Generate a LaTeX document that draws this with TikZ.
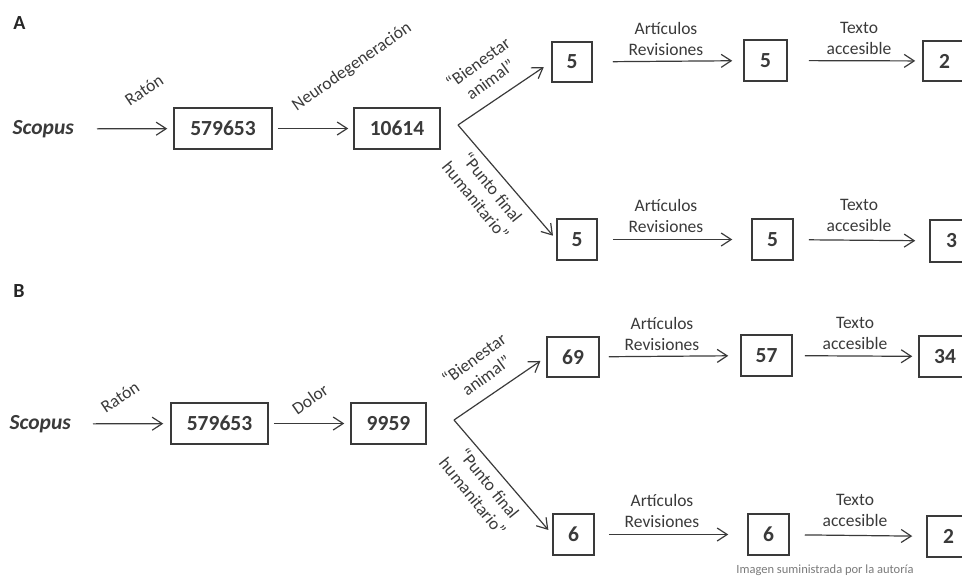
\documentclass[tikz,border=0pt]{standalone}
\usepackage{fontspec}
\setmainfont{Carlito}
\usetikzlibrary{arrows.meta}
\definecolor{tinta}{HTML}{3A3A3A}
\definecolor{nota}{HTML}{7A7A7A}
\tikzset{
  caja/.style={draw=tinta, line width=1.5pt, text=tinta, inner sep=0pt,
    font=\fontsize{21.5}{24}\selectfont\bfseries},
  flecha/.style={draw=tinta, line width=1.2pt,
    -{Straight Barb[length=10pt,width=13pt,line width=1.2pt]}},
  etiqueta/.style={text=tinta, align=center, inner sep=0pt,
    font=\fontsize{17.5}{21}\selectfont},
  fuente/.style={text=tinta, inner sep=2pt,
    font=\fontsize{21.5}{24}\selectfont\bfseries\itshape},
  panel/.style={text=black!85, inner sep=0pt,
    font=\fontsize{20}{24}\selectfont\bfseries}
}
\begin{document}
\begin{tikzpicture}[x=1pt,y=-1pt]
    \useasboundingbox (0,0) rectangle (962,576);

    % panel A
    \node[panel] (A) at (19.5,23.5) {A};
    \node[fuente,anchor=east] (aS) at (76,129) {Scopus};
    \node[caja,minimum width=98pt,minimum height=41pt] (a1) at (223,128.5) {579653};
    \node[caja,minimum width=86pt,minimum height=41pt] (a2) at (397,128.5) {10614};
    \coordinate (aP) at (458,125);
    \node[caja,minimum width=40pt,minimum height=40pt] (aU1) at (572,62) {5};
    \node[caja,minimum width=43pt,minimum height=41pt] (aU2) at (765.5,60.5) {5};
    \node[caja,minimum width=43pt,minimum height=40pt] (aU3) at (944.5,61) {2};
    \node[caja,minimum width=40pt,minimum height=41pt] (aL1) at (577,239.5) {5};
    \node[caja,minimum width=41pt,minimum height=41pt] (aL2) at (772.5,239.5) {5};
    \node[caja,minimum width=43pt,minimum height=42pt] (aL3) at (951.5,241) {3};

    \draw[flecha,shorten <=21pt,shorten >=6pt] (aS) -- (a1);
    \draw[flecha,shorten <=5pt,shorten >=5pt] (a1) -- (a2);
    \draw[flecha,shorten >=9pt] (aP) -- (aU1.west);
    \draw[flecha,shorten >=5pt] (aP) -- (aL1.west);
    \draw[flecha,shorten <=20pt,shorten >=11pt] (aU1) -- (aU2);
    \draw[flecha,shorten <=21pt,shorten >=7pt] (aU2) -- (aU3);
    \draw[flecha,shorten <=15pt,shorten >=19pt] (aL1) -- (aL2);
    \draw[flecha,shorten <=15pt,shorten >=14pt] (aL2) -- (aL3);

    \node[etiqueta,rotate=34] (aR) at (144,90) {Ratón};
    \node[etiqueta,rotate=35] (aN) at (352,67) {Neurodegeneración};
    \node[etiqueta,rotate=36] (aB) at (484,71) {“Bienestar\\animal”};
    \node[etiqueta,rotate=-51] (aF) at (484,194) {“Punto final\\humanitario”};
    \node[etiqueta] (aAR1) at (666,38.5) {Artículos\\Revisiones};
    \node[etiqueta] (aT1) at (859,38.5) {Texto\\accesible};
    \node[etiqueta] (aAR2) at (666,215.5) {Artículos\\Revisiones};
    \node[etiqueta] (aT2) at (859,215.5) {Texto\\accesible};

    % panel B
    \node[panel] (B) at (19,291) {B};
    \node[fuente,anchor=east] (bS) at (73,424) {Scopus};
    \node[caja,minimum width=97pt,minimum height=41pt] (b1) at (219.5,423.5) {579653};
    \node[caja,minimum width=75pt,minimum height=41pt] (b2) at (388.5,423.5) {9959};
    \coordinate (bP) at (454,420);
    \node[caja,minimum width=52pt,minimum height=40pt] (bU1) at (573,357) {69};
    \node[caja,minimum width=51pt,minimum height=41pt] (bU2) at (766.5,355.5) {57};
    \node[caja,minimum width=52pt,minimum height=41pt] (bU3) at (945,356.5) {34};
    \node[caja,minimum width=41pt,minimum height=41pt] (bL1) at (573.5,534.5) {6};
    \node[caja,minimum width=41pt,minimum height=41pt] (bL2) at (768.5,534.5) {6};
    \node[caja,minimum width=43pt,minimum height=41pt] (bL3) at (948.5,536.5) {2};

    \draw[flecha,shorten <=20pt,shorten >=7pt] (bS) -- (b1);
    \draw[flecha,shorten <=5pt,shorten >=6pt] (b1) -- (b2);
    \draw[flecha,shorten >=7pt] (bP) -- (bU1.west);
    \draw[flecha,shorten >=6pt] (bP) -- (bL1.west);
    \draw[flecha,shorten <=9pt,shorten >=12pt] (bU1) -- (bU2);
    \draw[flecha,shorten <=12pt,shorten >=6pt] (bU2) -- (bU3);
    \draw[flecha,shorten <=14pt,shorten >=19pt] (bL1) -- (bL2);
    \draw[flecha,shorten <=15pt,shorten >=14pt] (bL2) -- (bL3);

    \node[etiqueta,rotate=34] (bR) at (120,397) {Ratón};
    \node[etiqueta,rotate=35] (bD) at (310,399) {Dolor};
    \node[etiqueta,rotate=36] (bB) at (480,367) {“Bienestar\\animal”};
    \node[etiqueta,rotate=-51] (bF) at (481,490) {“Punto final\\humanitario”};
    \node[etiqueta] (bAR1) at (662,333.5) {Artículos\\Revisiones};
    \node[etiqueta] (bT1) at (855,333.5) {Texto\\accesible};
    \node[etiqueta] (bAR2) at (662,510.5) {Artículos\\Revisiones};
    \node[etiqueta] (bT2) at (855,510.5) {Texto\\accesible};

    \node[text=nota,inner sep=0pt,font=\fontsize{12.5}{14}\selectfont] (cred) at (825,570) {Imagen suministrada por la autoría};
\end{tikzpicture}
\end{document}
